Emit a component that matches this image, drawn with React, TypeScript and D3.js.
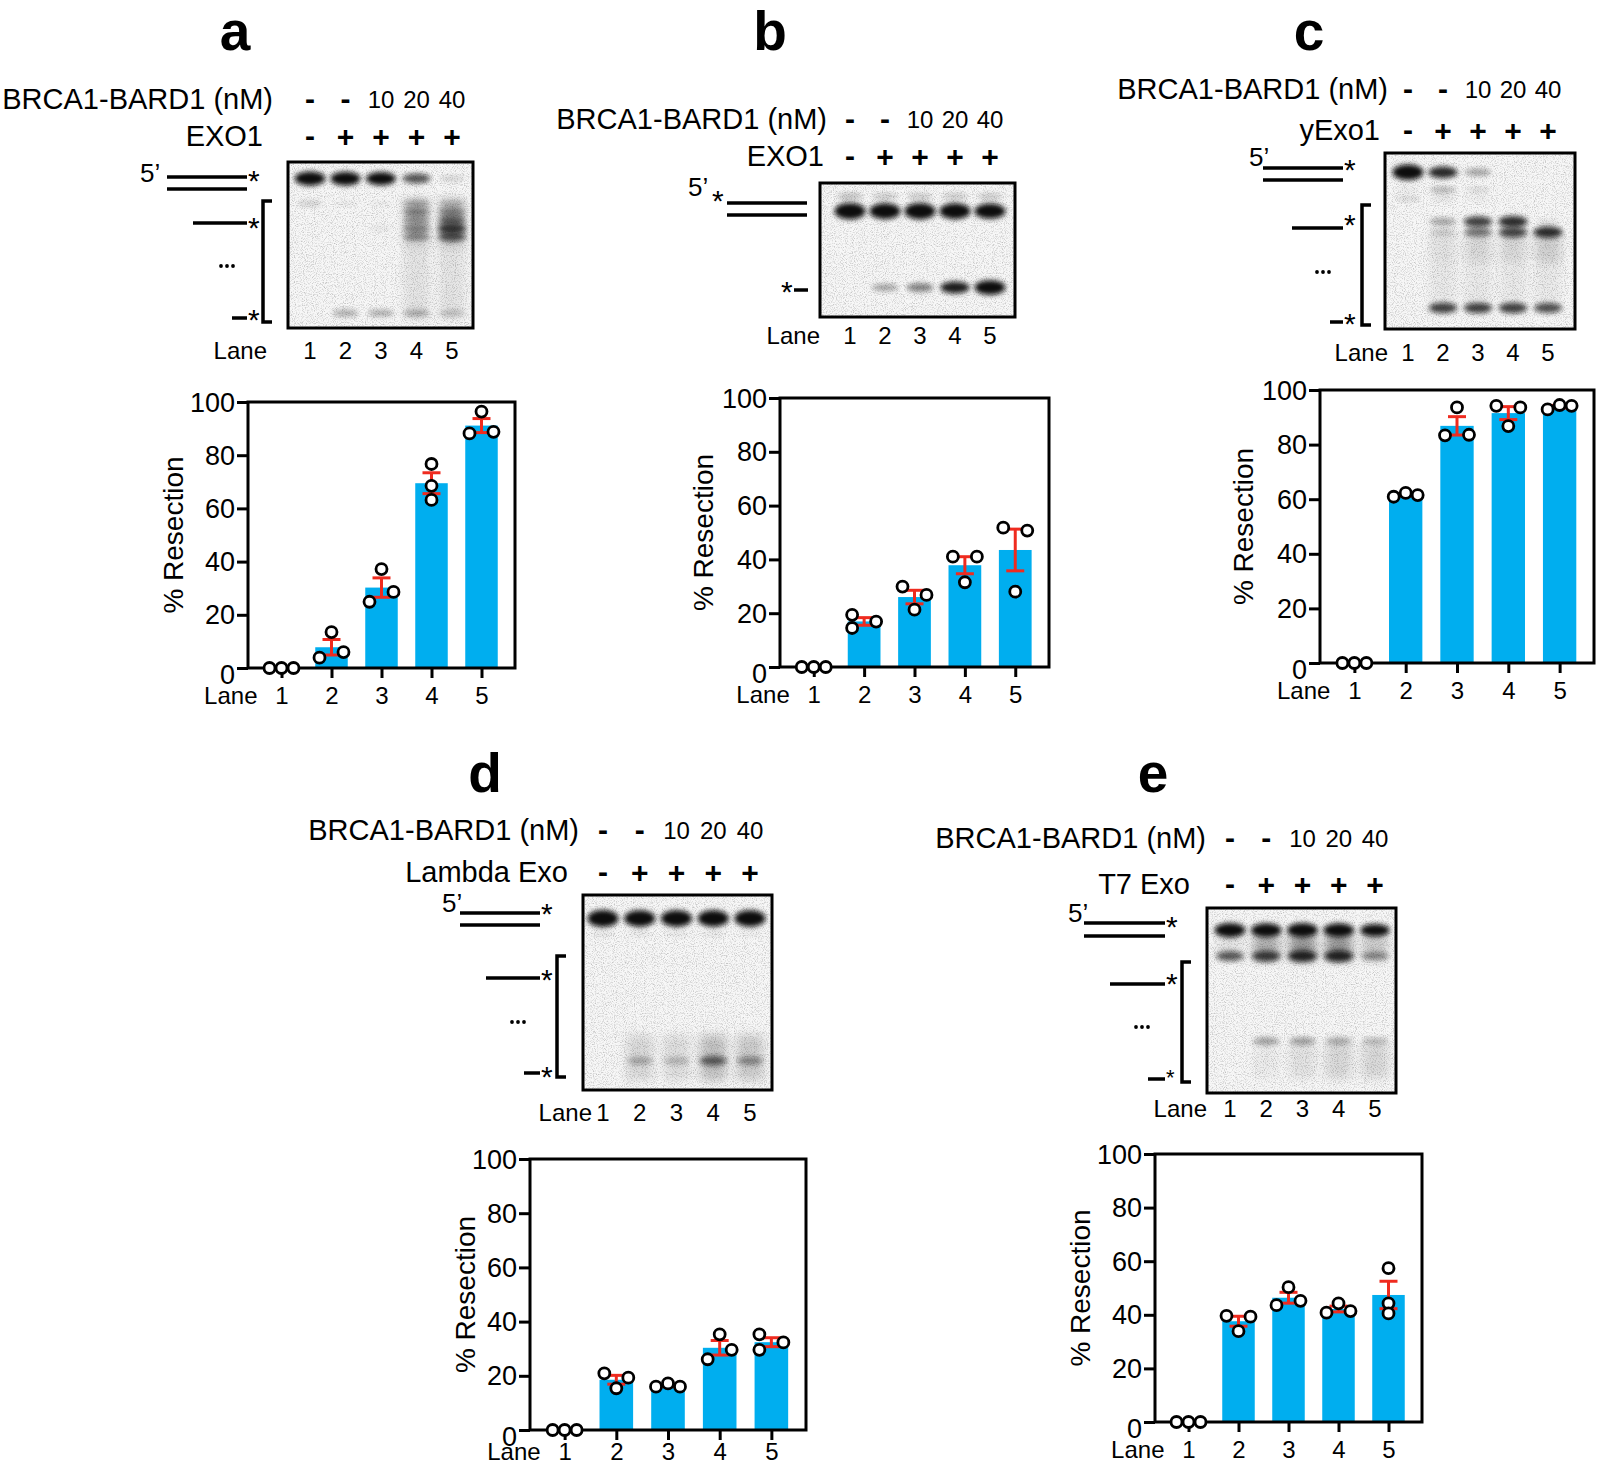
import React, { useEffect, useRef } from 'react';
import * as d3 from 'd3';

type Sel = d3.Selection<SVGGElement, unknown, null, undefined>;

const FONT = '"Liberation Sans", Arial, Helvetica, sans-serif';
const BAR = '#00aeef';
const ERR = '#ef2b1f';

const lanes = [1, 2, 3, 4, 5];
const concLabels = ['-', '-', '10', '20', '40'];
const exoSigns = ['-', '+', '+', '+', '+'];
const yTicks = [0, 20, 40, 60, 80, 100];

// % resection, three replicates per lane
const resectA = [[0, 0, 0], [13.5, 3.9, 6.0], [37.2, 24.9, 28.6], [76.7, 68.5, 63.2], [96.4, 88.2, 88.8]];
const resectB = [[0, 0, 0], [19.4, 14.5, 16.9], [29.9, 26.8, 21.3], [41.0, 41.0, 31.5], [51.8, 50.7, 28.0]];
const resectC = [[0, 0, 0], [60.9, 62.3, 61.5], [93.6, 83.4, 83.6], [94.2, 93.6, 86.8], [92.9, 94.5, 94.2]];
const resectD = [[0, 0, 0], [20.9, 15.4, 19.3], [16.0, 17.2, 16.0], [35.3, 26.1, 29.6], [35.3, 29.6, 32.3]];
const resectE = [[0, 0, 0], [39.6, 39.3, 33.9], [50.3, 43.6, 45.2], [40.8, 44.3, 41.4], [57.4, 44.3, 40.5]];

// scatter column of each replicate (-1 left, 0 centre, 1 right)
const slotsA = [[-1, 0, 1], [0, -1, 1], [0, -1, 1], [0, 0, 0], [0, -1, 1]];
const slotsB = [[-1, 0, 1], [-1, -1, 1], [-1, 1, 0], [-1, 1, 0], [-1, 1, 0]];
const slotsC = [[-1, 0, 1], [-1, 0, 1], [0, -1, 1], [-1, 1, 0], [-1, 0, 1]];
const slotsD = [[-1, 0, 1], [-1, 0, 1], [-1, 0, 1], [0, -1, 1], [-1, -1, 1]];
const slotsE = [[-1, 0, 1], [-1, 1, 0], [0, -1, 1], [-1, 0, 1], [0, 0, 0]];

// gel bands: [migration 0..1, signal lane 1..5]
const gelABands = [
  [0.1, 1.05, 1, 0.95, 0.62, 0.14],
  [0.25, 0.15, 0.05, 0.05, 0.3, 0.22],
  [0.3, 0, 0, 0, 0.42, 0.42],
  [0.35, 0, 0, 0, 0.36, 0.55],
  [0.4, 0, 0, 0.06, 0.42, 0.72],
  [0.45, 0, 0, 0, 0.4, 0.62],
  [0.91, 0, 0.28, 0.28, 0.28, 0.2],
];
// smears: [from, to, signal lane 1..5]
const gelASmears = [
  [0.22, 0.52, 0, 0, 0, 0.14, 0.16],
  [0.52, 0.95, 0, 0, 0, 0.07, 0.07],
];
const gelBBands = [
  [0.1, 0.22, 0.18, 0.18, 0.18, 0.18],
  [0.21, 1.3, 1.25, 1.3, 1.25, 1.15],
  [0.78, 0, 0.32, 0.45, 0.85, 1.1],
];
const gelBSmears: number[][] = [];
const gelCBands = [
  [0.11, 1.2, 0.8, 0.32, 0, 0],
  [0.21, 0.05, 0.25, 0.12, 0, 0],
  [0.26, 0.12, 0.08, 0.05, 0, 0],
  [0.39, 0, 0.32, 0.7, 0.78, 0.08],
  [0.45, 0, 0.18, 0.5, 0.68, 0.78],
  [0.88, 0, 0.7, 0.7, 0.7, 0.65],
];
const gelCSmears = [
  [0.45, 0.62, 0, 0.08, 0.12, 0.12, 0.16],
  [0.62, 0.85, 0, 0.05, 0.05, 0.05, 0.05],
];
const gelDBands = [
  [0.12, 1.35, 1.3, 1.3, 1.3, 1.3],
  [0.2, 0.07, 0.07, 0.07, 0.07, 0.05],
  [0.85, 0, 0.28, 0.22, 0.55, 0.38],
];
const gelDSmears = [[0.72, 0.95, 0, 0.12, 0.1, 0.22, 0.18]];
const gelEBands = [
  [0.12, 1.1, 1.05, 1.1, 1.05, 0.9],
  [0.26, 0.6, 0.7, 0.8, 0.8, 0.4],
  [0.72, 0, 0.33, 0.33, 0.28, 0.22],
];
const gelESmears = [
  [0.14, 0.28, 0.08, 0.3, 0.4, 0.4, 0.18],
  [0.72, 0.92, 0, 0.04, 0.08, 0.12, 0.12],
];

interface Box { x0: number; x1: number; y0: number; y1: number }
interface Gel extends Box { l1: number; l5: number }
interface Chart extends Box { titleOff: number; laneGap: number }
interface Ladder {
  p5: number[]; ds: number[]; star1: number; br: number[];
  single: number[]; star2: number; dots: number[]; short: number[]; star3: number; star3Size: number;
}
interface Panel {
  id: string; letter: number[]; enzyme: string; headX: number; exoX: number; concY: number; exoY: number;
  gel: Gel; laneX: number; laneY: number; chart: Chart;
  data: number[][]; slots: number[][]; bands: number[][]; smears: number[][];
  ladder?: Ladder;
}

const panels: Panel[] = [
  {
    id: 'a', letter: [235, 50], enzyme: 'EXO1', headX: 273, exoX: 263, concY: 99, exoY: 136,
    gel: { x0: 288, x1: 473, y0: 162, y1: 328, l1: 310, l5: 452 }, laneX: 267, laneY: 350,
    chart: { x0: 248, x1: 515, y0: 402, y1: 668, titleOff: 65, laneGap: 8.5 },
    data: resectA, slots: slotsA, bands: gelABands, smears: gelASmears,
    ladder: {
      p5: [140, 173], ds: [167, 247, 177, 189], star1: 174, br: [263, 201, 322],
      single: [193, 223], star2: 221, dots: [227, 266], short: [232, 318], star3: 313, star3Size: 30,
    },
  },
  {
    id: 'b', letter: [770, 50], enzyme: 'EXO1', headX: 827, exoX: 824, concY: 119, exoY: 156,
    gel: { x0: 820, x1: 1015, y0: 183, y1: 317, l1: 850, l5: 990 }, laneX: 820, laneY: 335,
    chart: { x0: 780, x1: 1049, y0: 398, y1: 667, titleOff: 67, laneGap: 8.5 },
    data: resectB, slots: slotsB, bands: gelBBands, smears: gelBSmears,
  },
  {
    id: 'c', letter: [1309, 50], enzyme: 'yExo1', headX: 1388, exoX: 1380, concY: 89, exoY: 130,
    gel: { x0: 1385, x1: 1575, y0: 153, y1: 329, l1: 1408, l5: 1548 }, laneX: 1388, laneY: 352,
    chart: { x0: 1320, x1: 1594, y0: 390, y1: 663, titleOff: 67, laneGap: 8.5 },
    data: resectC, slots: slotsC, bands: gelCBands, smears: gelCSmears,
    ladder: {
      p5: [1249, 157], ds: [1263, 1343, 168, 180], star1: 163, br: [1362, 205, 325],
      single: [1292, 228], star2: 218, dots: [1323, 272], short: [1330, 322], star3: 317, star3Size: 30,
    },
  },
  {
    id: 'd', letter: [485, 792], enzyme: 'Lambda Exo', headX: 579, exoX: 568, concY: 830, exoY: 872,
    gel: { x0: 583, x1: 772, y0: 895, y1: 1090, l1: 603, l5: 750 }, laneX: 592, laneY: 1112,
    chart: { x0: 530, x1: 806, y0: 1159, y1: 1430, titleOff: 55, laneGap: 3 },
    data: resectD, slots: slotsD, bands: gelDBands, smears: gelDSmears,
    ladder: {
      p5: [442, 903], ds: [460, 540, 913, 925], star1: 907, br: [557, 956, 1077],
      single: [486, 978], star2: 973, dots: [518, 1022], short: [524, 1073], star3: 1070, star3Size: 30,
    },
  },
  {
    id: 'e', letter: [1153, 792], enzyme: 'T7 Exo', headX: 1206, exoX: 1190, concY: 838, exoY: 884,
    gel: { x0: 1207, x1: 1396, y0: 908, y1: 1093, l1: 1230, l5: 1375 }, laneX: 1207, laneY: 1108,
    chart: { x0: 1155, x1: 1422, y0: 1154, y1: 1422, titleOff: 65, laneGap: 8.5 },
    data: resectE, slots: slotsE, bands: gelEBands, smears: gelESmears,
    ladder: {
      p5: [1068, 913], ds: [1084, 1165, 923, 936], star1: 920, br: [1182, 962, 1082],
      single: [1110, 984], star2: 977, dots: [1142, 1027], short: [1148, 1079], star3: 1072, star3Size: 22,
    },
  },
];

const txt = (g: Sel, x: number, y: number, s: string, size: number, anchor = 'middle', weight = 'normal') =>
  g.append('text')
    .attr('x', x)
    .attr('y', y)
    .attr('font-size', size)
    .attr('font-weight', weight)
    .attr('text-anchor', anchor)
    .text(s);

const seg = (g: Sel, x1: number, y1: number, x2: number, y2: number, w = 3.5) =>
  g.append('line')
    .attr('x1', x1).attr('y1', y1).attr('x2', x2).attr('y2', y2)
    .attr('stroke', '#000').attr('stroke-width', w);

// star glyph centred vertically on cy, left edge near x
const star = (g: Sel, x: number, cy: number, size = 30) => txt(g, x, cy + size * 0.57, '*', size, 'start');

function drawHeader(g: Sel, p: Panel) {
  const lx = d3.scalePoint<number>().domain(lanes).range([p.gel.l1, p.gel.l5]);
  txt(g, p.letter[0], p.letter[1], p.id, 55, 'middle', 'bold');
  txt(g, p.headX, p.concY + 10, 'BRCA1-BARD1 (nM)', 29, 'end');
  txt(g, p.exoX, p.exoY + 10, p.enzyme, 29, 'end');
  lanes.forEach((l, i) => {
    const c = concLabels[i];
    if (c === '-') txt(g, lx(l)!, p.concY + 10, c, 30, 'middle', 'bold');
    else txt(g, lx(l)!, p.concY + 9, c, 24);
    txt(g, lx(l)!, p.exoY + (exoSigns[i] === '+' ? 11 : 10), exoSigns[i], 30, 'middle', 'bold');
    txt(g, lx(l)!, p.laneY + 9, String(l), 24);
  });
  txt(g, p.laneX, p.laneY + 9, 'Lane', 24, 'end');
}

function drawGel(g: Sel, p: Panel) {
  const gel = p.gel;
  const lx = d3.scalePoint<number>().domain(lanes).range([gel.l1, gel.l5]);
  const my = d3.scaleLinear().domain([0, 1]).range([gel.y0, gel.y1]);
  const clip = `gelclip-${p.id}`;
  g.append('clipPath').attr('id', clip).append('rect')
    .attr('x', gel.x0).attr('y', gel.y0).attr('width', gel.x1 - gel.x0).attr('height', gel.y1 - gel.y0);
  const inner = g.append('g').attr('clip-path', `url(#${clip})`);
  inner.append('rect')
    .attr('x', gel.x0).attr('y', gel.y0).attr('width', gel.x1 - gel.x0).attr('height', gel.y1 - gel.y0)
    .attr('fill', '#f7f7f7');
  inner.append('rect')
    .attr('x', gel.x0).attr('y', gel.y0).attr('width', gel.x1 - gel.x0).attr('height', gel.y1 - gel.y0)
    .attr('filter', 'url(#grain)').attr('opacity', 0.22);

  p.smears.forEach(([m0, m1, ...v]) => {
    inner.append('g').selectAll('rect').data(lanes.filter((_, i) => v[i] > 0)).join('rect')
      .attr('x', (l) => lx(l)! - 13)
      .attr('y', my(m0))
      .attr('width', 26)
      .attr('height', my(m1) - my(m0))
      .attr('fill', '#111')
      .attr('opacity', (l) => v[l - 1])
      .attr('filter', 'url(#smear)');
  });
  p.bands.forEach(([m, ...v]) => {
    inner.append('g').selectAll('ellipse').data(lanes.filter((_, i) => v[i] > 0)).join('ellipse')
      .attr('cx', (l) => lx(l)!)
      .attr('cy', my(m))
      .attr('rx', (l) => 12 + 3 * Math.min(1.15, v[l - 1]))
      .attr('ry', (l) => 2 + 4.8 * v[l - 1])
      .attr('fill', '#0a0a0a')
      .attr('opacity', (l) => Math.min(1, v[l - 1] * 1.1))
      .attr('filter', 'url(#band)');
  });
  g.append('rect')
    .attr('x', gel.x0).attr('y', gel.y0).attr('width', gel.x1 - gel.x0).attr('height', gel.y1 - gel.y0)
    .attr('fill', 'none').attr('stroke', '#000').attr('stroke-width', 3);
}

function drawLadder(g: Sel, s: Ladder) {
  const [dx0, dx1, dyt, dyb] = s.ds;
  txt(g, s.p5[0], s.p5[1] + 9, '5\u2019', 26, 'start');
  seg(g, dx0, dyt, dx1, dyt);
  seg(g, dx0, dyb, dx1, dyb);
  star(g, dx1 + 1, s.star1);
  const [bx, by0, by1] = s.br;
  g.append('path')
    .attr('d', `M${bx + 9},${by0}H${bx}V${by1}H${bx + 9}`)
    .attr('fill', 'none').attr('stroke', '#000').attr('stroke-width', 3.5);
  seg(g, s.single[0], s.single[1], dx1, s.single[1]);
  star(g, dx1 + 1, s.star2);
  [-6, 0, 6].forEach((o) => g.append('circle').attr('cx', s.dots[0] + o).attr('cy', s.dots[1]).attr('r', 1.9));
  seg(g, s.short[0], s.short[1], dx1, s.short[1]);
  star(g, dx1 + 1, s.star3, s.star3Size);
}

function drawDuplex(g: Sel) {
  txt(g, 688, 196, '5\u2019', 26, 'start');
  star(g, 712, 194);
  seg(g, 727, 203, 807, 203);
  seg(g, 727, 215, 807, 215);
  star(g, 781, 285);
  seg(g, 794, 290, 808, 290);
}

function drawChart(g: Sel, p: Panel) {
  const c = p.chart;
  const x = d3.scalePoint<number>().domain(lanes).range([c.x0, c.x1]).padding(0.67);
  const y = d3.scaleLinear().domain([0, 100]).range([c.y1, c.y0]);
  const bw = x.step() * 0.65;
  const stats = p.data.map((d) => ({
    mean: d3.mean(d) ?? 0,
    sem: (d3.deviation(d) ?? 0) / Math.sqrt(d.length),
  }));

  g.append('g').selectAll('rect').data(lanes).join('rect')
    .attr('x', (l) => x(l)! - bw / 2)
    .attr('y', (_, i) => y(stats[i].mean))
    .attr('width', bw)
    .attr('height', (_, i) => y(0) - y(stats[i].mean))
    .attr('fill', BAR);

  const err = g.append('g').attr('stroke', ERR).attr('stroke-width', 3);
  lanes.forEach((l, i) => {
    const { mean, sem } = stats[i];
    if (sem < 0.2) return;
    const cx = x(l)!;
    err.append('line').attr('x1', cx).attr('x2', cx).attr('y1', y(mean - sem)).attr('y2', y(mean + sem));
    [mean - sem, mean + sem].forEach((v) =>
      err.append('line').attr('x1', cx - 9).attr('x2', cx + 9).attr('y1', y(v)).attr('y2', y(v)));
  });

  g.append('rect')
    .attr('x', c.x0).attr('y', c.y0).attr('width', c.x1 - c.x0).attr('height', c.y1 - c.y0)
    .attr('fill', 'none').attr('stroke', '#000').attr('stroke-width', 3);

  const ya = g.append('g')
    .attr('transform', `translate(${c.x0},0)`)
    .call(d3.axisLeft(y).tickValues(yTicks).tickSize(11).tickPadding(2));
  ya.attr('font-size', 27).attr('font-family', FONT);
  ya.select('.domain').remove();
  ya.selectAll('line').attr('stroke-width', 3);
  ya.selectAll<SVGTextElement, number>('text').attr('fill', '#000').attr('dy', (d) => (d === 0 ? '0.56em' : '0.34em'));

  const xa = g.append('g')
    .attr('transform', `translate(0,${c.y1})`)
    .call(d3.axisBottom(x).tickSize(10).tickPadding(c.laneGap));
  xa.attr('font-size', 24).attr('font-family', FONT);
  xa.select('.domain').remove();
  xa.selectAll('line').attr('stroke-width', 3);
  xa.selectAll('text').attr('fill', '#000');
  txt(g, x(1)! - 24, c.y1 + 27 + c.laneGap, 'Lane', 24, 'end');

  g.append('text')
    .attr('transform', `translate(${c.x0 - c.titleOff},${(c.y0 + c.y1) / 2}) rotate(-90)`)
    .attr('text-anchor', 'middle')
    .attr('font-size', 28)
    .text('% Resection');

  const pts = p.data.flatMap((d, i) => d.map((v, j) => ({ lane: lanes[i], v, slot: p.slots[i][j] })));
  g.append('g').selectAll('circle').data(pts).join('circle')
    .attr('cx', (d) => x(d.lane)! + d.slot * 12)
    .attr('cy', (d) => y(d.v))
    .attr('r', 5.5)
    .attr('fill', '#fff')
    .attr('stroke', '#000')
    .attr('stroke-width', 2.8);
}

const App = () => {
  const ref = useRef<SVGSVGElement>(null);
  useEffect(() => {
    if (!ref.current) return;
    const svg = d3.select(ref.current);
    svg.selectAll('*').remove();
    const defs = svg.append('defs');
    const grain = defs.append('filter').attr('id', 'grain').attr('x', 0).attr('y', 0).attr('width', '100%').attr('height', '100%');
    grain.append('feTurbulence').attr('type', 'fractalNoise').attr('baseFrequency', 0.9).attr('numOctaves', 2).attr('seed', 5);
    grain.append('feColorMatrix').attr('type', 'matrix')
      .attr('values', '0 0 0 0 0  0 0 0 0 0  0 0 0 0 0  0 0 0 -2.6 1.4');
    defs.append('filter').attr('id', 'band').attr('x', '-60%').attr('y', '-150%').attr('width', '220%').attr('height', '400%')
      .append('feGaussianBlur').attr('stdDeviation', 2.4);
    defs.append('filter').attr('id', 'smear').attr('x', '-60%').attr('y', '-60%').attr('width', '220%').attr('height', '220%')
      .append('feGaussianBlur').attr('stdDeviation', 5);

    const root = svg.append('g').attr('font-family', FONT).attr('fill', '#000') as unknown as Sel;
    panels.forEach((p) => {
      const g = root.append('g');
      drawHeader(g, p);
      drawGel(g, p);
      if (p.ladder) drawLadder(g, p.ladder);
      else drawDuplex(g);
      drawChart(g, p);
    });
  }, []);

  return (
    <svg
      ref={ref}
      width={1600}
      height={1468}
      style={{ position: 'absolute', left: 0, top: 0, background: '#fff' }}
    />
  );
};

export default App;
